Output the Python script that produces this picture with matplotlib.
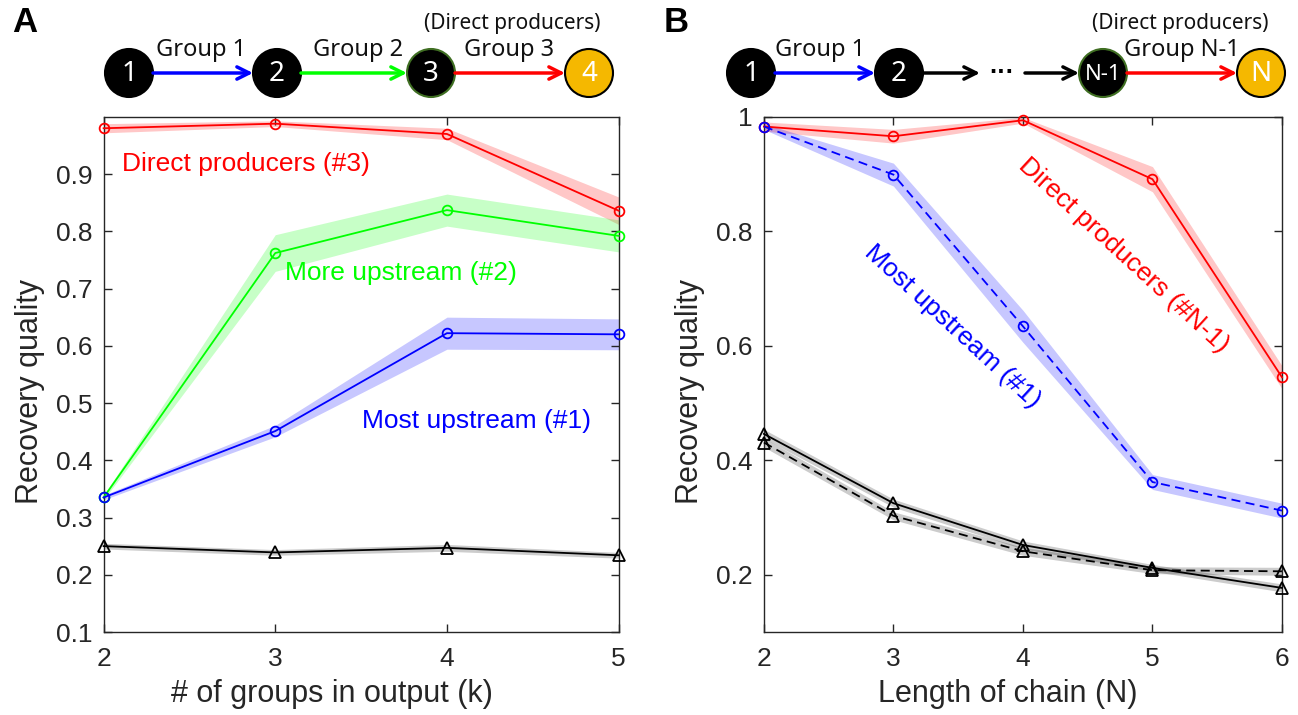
import matplotlib.pyplot as plt
from matplotlib.patches import Circle

plt.rcParams['font.family'] = ['Liberation Sans', 'DejaVu Sans']

# ---- datos panel A ----
k_vals = [2, 3, 4, 5]
direct_a = [0.980, 0.988, 0.970, 0.836]
direct_a_err = [0.008, 0.005, 0.010, 0.024]
more_up_a = [0.335, 0.762, 0.837, 0.792]
more_up_a_err = [0.004, 0.032, 0.028, 0.028]
most_up_a = [0.335, 0.451, 0.622, 0.620]
most_up_a_err = [0.004, 0.010, 0.028, 0.027]
base_a = [0.250, 0.239, 0.247, 0.234]
base_a_err = [0.005, 0.005, 0.006, 0.005]

# ---- datos panel B ----
n_vals = [2, 3, 4, 5, 6]
direct_b = [0.983, 0.966, 0.994, 0.891, 0.545]
direct_b_err = [0.008, 0.012, 0.005, 0.022, 0.020]
most_up_b = [0.983, 0.899, 0.634, 0.362, 0.312]
most_up_b_err = [0.005, 0.020, 0.028, 0.013, 0.013]
base_b_solid = [0.446, 0.325, 0.252, 0.212, 0.177]
base_b_dash = [0.431, 0.303, 0.241, 0.208, 0.206]
base_b_err = [0.008, 0.007, 0.007, 0.006, 0.007]

W, H = 1298, 715
fig = plt.figure(figsize=(W / 100, H / 100), dpi=100)

tick_col = '#262626'


def px_axes(x0, y0, x1, y1):
    return fig.add_axes([x0 / W, 1 - y1 / H, (x1 - x0) / W, (y1 - y0) / H])


def style(ax):
    ax.tick_params(direction='in', length=6, width=1, colors=tick_col,
                   labelsize=19, top=True, right=True, labelcolor=tick_col)
    ax.tick_params(axis='x', pad=11)
    ax.tick_params(axis='y', pad=8)
    for s in ax.spines.values():
        s.set_color(tick_col)
        s.set_linewidth(1)


def band(ax, x, y, e, color, alpha):
    lo = [a - b for a, b in zip(y, e)]
    hi = [a + b for a, b in zip(y, e)]
    ax.fill_between(x, lo, hi, color=color, alpha=alpha, lw=0)


def line(ax, x, y, fmt, color, ms=7, dashed=False):
    ln, = ax.plot(x, y, fmt, color=color, lw=1.3, ms=ms, mfc='none', mew=1.3, clip_on=False, zorder=5)
    if dashed:
        ln.set_dashes((5, 3))


# ---- panel A ----
ax1 = px_axes(103.6, 116.8, 618.6, 632)
band(ax1, k_vals, direct_a, direct_a_err, 'red', 0.22)
band(ax1, k_vals, more_up_a, more_up_a_err, 'lime', 0.22)
band(ax1, k_vals, most_up_a, most_up_a_err, 'blue', 0.22)
band(ax1, k_vals, base_a, base_a_err, 'black', 0.2)
line(ax1, k_vals, direct_a, '-o', 'red')
line(ax1, k_vals, more_up_a, '-o', 'lime')
line(ax1, k_vals, most_up_a, '-o', 'blue')
line(ax1, k_vals, base_a, '-^', 'black', ms=8)
ax1.set_xlim(2, 5)
ax1.set_ylim(0.1, 1.0)
ax1.set_xticks(k_vals)
ax1.set_yticks([0.1, 0.2, 0.3, 0.4, 0.5, 0.6, 0.7, 0.8, 0.9])
ax1.set_yticklabels(['0.1', '0.2', '0.3', '0.4', '0.5', '0.6', '0.7', '0.8', '0.9'])
style(ax1)
ax1.set_xlabel('# of groups in output (k)', fontsize=22, color=tick_col, va='center')
ax1.xaxis.set_label_coords(0.443, -0.12)
ax1.set_ylabel('Recovery quality', fontsize=22, color=tick_col, va='center')
ax1.yaxis.set_label_coords(-0.143, 0.466)
ax1.text(2.107, 0.9175, 'Direct producers (#3)', color='red', fontsize=19, va='center')
ax1.text(3.056, 0.727, 'More upstream (#2)', color='lime', fontsize=19, va='center')
ax1.text(3.505, 0.4686, 'Most upstream (#1)', color='blue', fontsize=19, va='center')

# ---- panel B ----
ax2 = px_axes(763.9, 116.8, 1282, 632)
band(ax2, n_vals, direct_b, direct_b_err, 'red', 0.22)
band(ax2, n_vals, most_up_b, most_up_b_err, 'blue', 0.22)
band(ax2, n_vals, base_b_solid, base_b_err, 'black', 0.2)
band(ax2, n_vals, base_b_dash, base_b_err, 'black', 0.2)
line(ax2, n_vals, direct_b, '-o', 'red')
line(ax2, n_vals, most_up_b, '-o', 'blue', dashed=True)
line(ax2, n_vals, base_b_solid, '-^', 'black', ms=8)
line(ax2, n_vals, base_b_dash, '-^', 'black', ms=8, dashed=True)
ax2.set_xlim(2, 6)
ax2.set_ylim(0.1, 1.0)
ax2.set_xticks(n_vals)
ax2.set_yticks([0.2, 0.4, 0.6, 0.8, 1.0])
ax2.set_yticklabels(['0.2', '0.4', '0.6', '0.8', '1'])
style(ax2)
ax2.set_xlabel('Length of chain (N)', fontsize=22, color=tick_col, va='center')
ax2.xaxis.set_label_coords(0.47, -0.12)
ax2.set_ylabel('Recovery quality', fontsize=22, color=tick_col, va='center')
ax2.yaxis.set_label_coords(-0.143, 0.466)
ax2.text(4.78, 0.759, 'Direct producers (#N-1)', color='red', fontsize=19,
         rotation=-42.5, rotation_mode='anchor', ha='center', va='center')
ax2.text(3.456, 0.633, 'Most upstream (#1)', color='blue', fontsize=19,
         rotation=-42.5, rotation_mode='anchor', ha='center', va='center')

# ---- diagramas de arriba ----
top = fig.add_axes([0, 0, 1, 1])
top.set_xlim(0, W)
top.set_ylim(H, 0)
top.axis('off')

cy = 73
r = 24
dfont = ['Noto Sans', 'DejaVu Sans']


def node(x, label, face='black', edge='black', fs=20, weight='bold'):
    top.add_patch(Circle((x, cy), r, facecolor=face, edgecolor=edge, lw=1.5, zorder=3))
    top.text(x, cy + 1, label, color='white', fontsize=fs, fontweight=weight,
             ha='center', va='center', zorder=4, family=dfont)


def arrow(x0, x1, color):
    top.annotate('', xy=(x1, cy), xytext=(x0, cy),
                 arrowprops=dict(arrowstyle='->', color=color, lw=2.5,
                                 shrinkA=0, shrinkB=0, mutation_scale=22))


def label(x, y, s, fs=17):
    top.text(x, y, s, fontsize=fs, ha='center', va='center', color='#111111', family=dfont)


# panel A
node(129, '1')
node(277, '2')
node(431, '3', edge='#3f6e22')
node(589, '4', face='#F5B800')
arrow(153, 253, 'blue')
arrow(301, 407, 'lime')
arrow(455, 565, 'red')
label(201, 50, 'Group 1')
label(358, 50, 'Group 2')
label(509, 50, 'Group 3')
label(512, 24, '(Direct producers)', fs=15)

# panel B
node(751, '1')
node(899, '2')
node(1103, 'N-1', edge='#3f6e22', fs=16, weight='normal')
node(1261, 'N', face='#F5B800')
arrow(775, 875, 'blue')
arrow(923, 980, 'black')
top.text(1002, cy, '···', fontsize=18, fontweight='bold', ha='center', va='center', color='black')
arrow(1025, 1079, 'black')
arrow(1127, 1237, 'red')
label(820, 50, 'Group 1')
label(1182, 50, 'Group N-1')
label(1180, 24, '(Direct producers)', fs=15)

fig.text(12 / W, 1 - 6 / H, 'A', fontsize=25, fontweight='bold', va='top', ha='left')
fig.text(664 / W, 1 - 6 / H, 'B', fontsize=25, fontweight='bold', va='top', ha='left')

plt.savefig('out.png', dpi=100)
